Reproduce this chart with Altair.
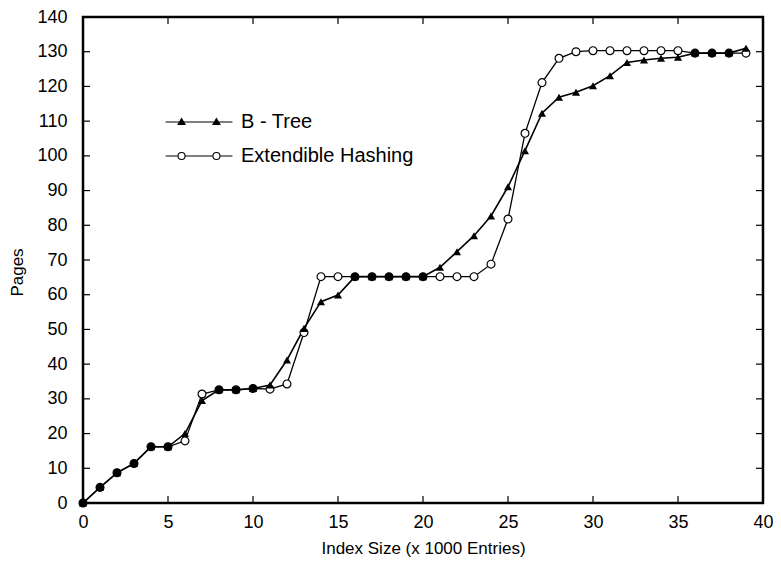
import altair as alt
import pandas as pd

# ---------------- data ----------------
x_vals = list(range(40))
btree = [0, 4.5, 8.7, 11.4, 16.2, 16.2, 20.0, 29.5, 32.6, 32.6,
         33.0, 34.0, 41.2, 50.3, 58.0, 59.9, 65.2, 65.2, 65.2, 65.2,
         65.2, 67.9, 72.4, 77.0, 82.7, 91.1, 101.5, 112.3, 116.9, 118.3,
         120.2, 123.1, 126.9, 127.6, 128.1, 128.4, 129.6, 129.6, 129.6, 131.0]
hashing = [0, 4.5, 8.7, 11.4, 16.2, 16.2, 17.9, 31.4, 32.6, 32.6,
           33.0, 32.8, 34.3, 49.1, 65.2, 65.2, 65.2, 65.2, 65.2, 65.2,
           65.2, 65.2, 65.2, 65.2, 68.8, 81.8, 106.5, 121.1, 128.1, 130.0,
           130.3, 130.3, 130.3, 130.3, 130.3, 130.3, 129.6, 129.6, 129.6, 129.6]
series_names = ["B - Tree", "Extendible Hashing"]
x_ticks = [0, 5, 10, 15, 20, 25, 30, 35, 40]
y_ticks = [0, 10, 20, 30, 40, 50, 60, 70, 80, 90, 100, 110, 120, 130, 140]

X_MIN, X_MAX = 0, 40
Y_MIN, Y_MAX = 0, 140

df = pd.DataFrame({"x": x_vals, "btree": btree, "hashing": hashing})
df["overlap"] = (df["btree"] - df["hashing"]).abs() < 0.3
legend_df = pd.DataFrame({"series": series_names, "x": [0, 0], "v": [0, 0]})
xt_df = pd.DataFrame({"t": x_ticks, "lo": Y_MIN, "hi": Y_MAX})
yt_df = pd.DataFrame({"t": y_ticks, "lo": X_MIN, "hi": X_MAX})

FONT = "Liberation Sans"
xs = alt.Scale(domain=[X_MIN, X_MAX], nice=False, zero=False)
ys = alt.Scale(domain=[Y_MIN, Y_MAX], nice=False, zero=False)

x_main = alt.X("x:Q", scale=xs, axis=alt.Axis(
    orient="bottom", values=x_ticks, ticks=False, domain=False, grid=False,
    labelPadding=10, labelFlush=False, labelOverlap=False,
    labelFont=FONT, labelFontSize=18, labelColor="black",
    title="Index Size (x 1000 Entries)", titleFont=FONT, titleFontSize=17,
    titleFontWeight="normal", titleColor="black", titlePadding=9))
y_main = alt.Y("btree:Q", scale=ys, axis=alt.Axis(
    orient="left", values=y_ticks, ticks=False, domain=False, grid=False,
    labelPadding=16, labelFlush=False, labelOverlap=False,
    labelFont=FONT, labelFontSize=18, labelColor="black",
    title="Pages", titleFont=FONT, titleFontSize=17, titleFontWeight="normal",
    titleColor="black", titlePadding=10, titleY=255))

def X(field):
    return alt.X(field, scale=xs, axis=None)

def Y(field):
    return alt.Y(field, scale=ys, axis=None)

base = alt.Chart(df)

line_bt = base.mark_line(color="black", strokeWidth=1.6).encode(x=x_main, y=y_main)
line_eh = base.mark_line(color="black", strokeWidth=1.3).encode(
    x=X("x:Q"), y=Y("hashing:Q"))

pts_eh = base.mark_point(shape="circle", size=62, stroke="black", strokeWidth=1.2,
                         opacity=1).encode(
    x=X("x:Q"), y=Y("hashing:Q"),
    fill=alt.condition("datum.overlap", alt.value("black"), alt.value("white")),
)
pts_bt = base.mark_point(shape="triangle-up", size=66, filled=True, color="black",
                         opacity=1).encode(x=X("x:Q"), y=Y("btree:Q"))

# inward tick marks on the four sides
ticks_bottom = alt.Chart(xt_df).mark_rule(color="black", strokeWidth=1.2,
                                          y2Offset=-7).encode(
    x=X("t:Q"), y=Y("lo:Q"), y2="lo:Q")
ticks_top = alt.Chart(xt_df).mark_rule(color="black", strokeWidth=1.2,
                                       y2Offset=7).encode(
    x=X("t:Q"), y=Y("hi:Q"), y2="hi:Q")
ticks_left = alt.Chart(yt_df).mark_rule(color="black", strokeWidth=1.2,
                                        x2Offset=7).encode(
    y=Y("t:Q"), x=X("lo:Q"), x2="lo:Q")
ticks_right = alt.Chart(yt_df).mark_rule(color="black", strokeWidth=1.2,
                                         x2Offset=-7).encode(
    y=Y("t:Q"), x=X("hi:Q"), x2="hi:Q")

# legend symbols: line with two markers (custom SVG paths)
path_bt = ("M-2.09,0L2.09,0 "
           "M-1.31,0.16L-1.09,-0.22L-0.87,0.16Z "
           "M0.87,0.16L1.09,-0.22L1.31,0.16Z")
path_eh = ("M-2.09,0L-1.31,0 M-0.87,0L0.87,0 M1.31,0L2.09,0 "
           "M-1.31,0A0.22,0.22 0 1,0 -0.87,0A0.22,0.22 0 1,0 -1.31,0Z "
           "M0.87,0A0.22,0.22 0 1,0 1.31,0A0.22,0.22 0 1,0 0.87,0Z")

leg = alt.Legend(orient="none", legendX=99, legendY=88, title=None,
                 labelFont=FONT, labelFontSize=20, labelColor="black",
                 labelOffset=25, rowPadding=7, padding=0, symbolSize=1024,
                 symbolStrokeColor="black", symbolStrokeWidth=1.1,
                 labelLimit=400, direction="vertical")

legend_layer = alt.Chart(legend_df).transform_filter("false").mark_point(
    stroke="black", strokeWidth=1.1, size=1024, opacity=1).encode(
    x=X("x:Q"), y=Y("v:Q"),
    shape=alt.Shape("series:N", scale=alt.Scale(domain=series_names,
                                                range=[path_bt, path_eh]), legend=leg),
    fill=alt.Fill("series:N", scale=alt.Scale(domain=series_names,
                                              range=["black", "white"]), legend=leg),
    stroke=alt.Stroke("series:N", scale=alt.Scale(domain=series_names,
                                                  range=["black", "black"]), legend=leg),
)

chart = alt.layer(line_bt, line_eh, ticks_bottom, ticks_top, ticks_left, ticks_right,
                  pts_eh, pts_bt, legend_layer).resolve_axis(
    x="independent", y="independent"
).properties(
    width=680, height=486,
    autosize=alt.AutoSizeParams(type="none"),
    padding={"left": 75, "top": 9, "right": 10, "bottom": 57},
).configure_view(stroke="black", strokeWidth=2.5).configure_axis(labelOverlap=False)

chart.save("out.html", embed_options={"renderer": "svg", "actions": False})
